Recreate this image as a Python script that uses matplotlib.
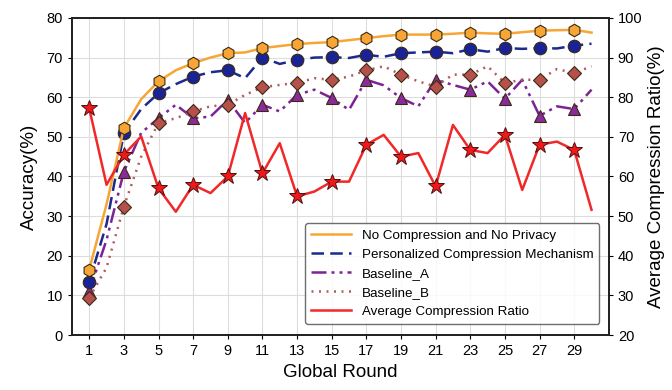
import matplotlib
matplotlib.use("Agg")
import matplotlib.pyplot as plt
from matplotlib.lines import Line2D

plt.rcParams['font.family'] = ['Liberation Sans', 'DejaVu Sans']

rounds = list(range(1, 31))
no_comp = [16.5, 33, 52.2, 59.5, 64.0, 66.8, 68.6, 70.0, 71.1, 71.3, 72.4, 72.9, 73.4, 73.7, 73.9,
           74.4, 74.9, 75.4, 75.8, 75.8, 75.8, 76.0, 76.3, 76.1, 76.0, 76.4, 76.8, 76.9, 77.0, 76.3]
personalized = [13.5, 28, 50.9, 57, 61.0, 63.3, 65.2, 66.3, 66.8, 64.8, 70.0, 68.4, 69.4, 70.0, 70.1,
                69.9, 70.7, 70.2, 71.1, 71.3, 71.5, 71.1, 72.1, 71.5, 72.4, 72.2, 72.4, 72.3, 73.0, 73.5]
baseline_a = [11, 24, 41.2, 51, 54.7, 58.1, 54.7, 55.1, 59.3, 53.5, 58.1, 56.4, 60.6, 61.9, 59.8,
              56.8, 64.4, 63.0, 59.8, 57.7, 64.4, 63.1, 61.9, 64.0, 59.6, 64.4, 55.3, 57.7, 57.0, 61.9]
baseline_b = [9.4, 17, 32.4, 45, 53.5, 54.7, 56.4, 57.7, 58.1, 60.6, 62.5, 63.1, 63.6, 64.8, 64.4,
              65.2, 66.8, 67.8, 65.7, 64.0, 62.7, 65.7, 65.7, 67.8, 63.6, 64.4, 64.4, 67.1, 66.1, 67.8]
comp_ratio = [77.2, 57.9, 65.5, 70.1, 57.0, 51.1, 57.9, 55.8, 60.0, 76.0, 60.8, 68.4, 55.0, 56.2, 58.7,
              58.7, 68.0, 70.5, 65.0, 65.9, 57.5, 73.0, 66.7, 65.9, 70.5, 56.6, 68.0, 68.8, 66.7, 51.6]
xticks = list(range(1, 30, 2))

fig = plt.figure(figsize=(6.72, 3.9), dpi=100)
ax = fig.add_axes([0.107, 0.141, 0.799, 0.813])
ax2 = ax.twinx()

lw = 1.8
ms = 9
mk = dict(markevery=2, markeredgecolor='#3a2a10', markeredgewidth=0.8)
ls_p = (0, (5, 2.5))
ls_a = (0, (6, 2, 1.2, 2, 1.2, 2))
ls_b = (0, (0.8, 2.2))
l1, = ax.plot(rounds, no_comp, color='#f7a534', lw=lw, ls='-', marker='h', ms=ms,
              markerfacecolor='#f7a534', label='No Compression and No Privacy', **mk, zorder=5)
l2, = ax.plot(rounds, personalized, color='#1c2a8c', lw=lw, ls=ls_p, marker='o', ms=ms,
              markerfacecolor='#1a2396', label='Personalized Compression Mechanism', **mk, zorder=4)
l3, = ax.plot(rounds, baseline_a, color='#7d2396', lw=lw, ls=ls_a, marker='^', ms=ms,
              markerfacecolor='#8a2a9c', label='Baseline_A', **mk, zorder=3)
l4, = ax.plot(rounds, baseline_b, color='#b05a5e', lw=lw, ls=ls_b, marker='D', ms=7.5,
              markerfacecolor='#b5504c', label='Baseline_B', **mk, zorder=3)
l5, = ax2.plot(rounds, comp_ratio, color='#f02828', lw=lw, ls='-', marker='*', ms=12,
               markerfacecolor='#f01818', markevery=2, markeredgecolor='#501010', markeredgewidth=0.7,
               label='Average Compression Ratio')

ax.set_xlim(0, 31)
ax.set_ylim(0, 80)
ax2.set_ylim(20, 100)
ax.set_xticks(xticks)
ax.set_yticks(range(0, 81, 10))
ax2.set_yticks(range(20, 101, 10))
ax.grid(True, color='#dddddd', lw=0.8)
ax.set_axisbelow(True)
ax.tick_params(labelsize=10.5, length=3)
ax2.tick_params(labelsize=10.5, length=3)
ax.set_xlabel('Global Round', fontsize=13.5)
ax.set_ylabel('Accuracy(%)', fontsize=13.5, labelpad=6)
ax2.set_ylabel('Average Compression Ratio(%)', fontsize=13.5)
for a in (ax, ax2):
    for s in a.spines.values():
        s.set_linewidth(1.3)
        s.set_color('#222222')

handles = [l1, l2, l3, l4, l5]
styles = ['-', ls_p, ls_a, ls_b, '-']
handles_leg = [Line2D([], [], color=h.get_color(), ls=s, lw=lw) for h, s in zip(handles, styles)]
leg = ax2.legend(handles_leg, [h.get_label() for h in handles], loc='lower right', fontsize=9.6,
                 frameon=True, edgecolor='#555555', framealpha=0.85, borderpad=0.45, labelspacing=0.5,
                 handlelength=3.0, bbox_to_anchor=(0.995, 0.015))
leg.get_frame().set_linewidth(1.0)

fig.savefig('out.png', dpi=100)
